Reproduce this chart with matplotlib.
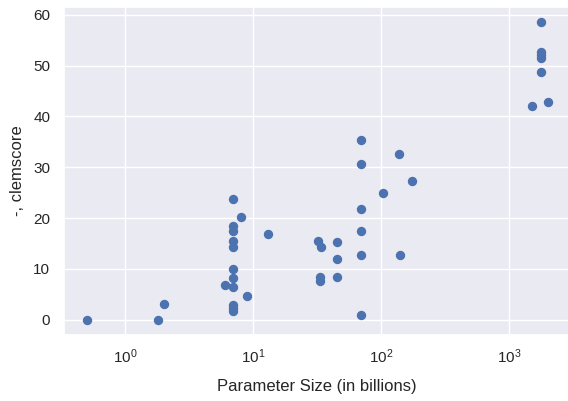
import numpy as np
import matplotlib
matplotlib.use("Agg")
import matplotlib.pyplot as plt
import seaborn as sns

sns.set_theme(style="darkgrid")
plt.rcParams['font.family'] = ['Liberation Sans', 'DejaVu Sans']

# parameter size in billions and clemscore
params = [0.5, 1.8, 2,
          7, 8, 7, 7, 7, 7, 13, 7, 7, 6, 7, 9, 7, 7, 7,
          70, 137, 70, 175, 104, 70, 70, 32, 34, 45, 70, 140, 45, 33, 33, 45, 70,
          1760, 1760, 1760, 1760, 1760, 2000, 1500]
scores = [0.0, 0.0, 3.0,
          23.7, 20.2, 18.5, 17.4, 15.5, 14.3, 16.9, 9.9, 8.1, 6.8, 6.5, 4.6, 2.9, 2.2, 1.6,
          35.3, 32.6, 30.6, 27.3, 25.0, 21.7, 17.5, 15.5, 14.3, 15.2, 12.8, 12.8, 11.9, 8.3, 7.6, 8.4, 0.9,
          58.6, 52.7, 52.1, 51.4, 48.7, 42.8, 42.1]

fig = plt.figure(figsize=(5.68, 4.01), dpi=100)
ax = fig.add_axes([0.1118, 0.1658, 0.8935, 0.8167])
ax.scatter(params, scores, s=33, color='#4C72B0')
ax.set_xscale('log')
ax.set_xlabel('Parameter Size (in billions)', fontsize=12, labelpad=9)
ax.set_ylabel('-, clemscore', fontsize=12, labelpad=6)
ax.tick_params(labelsize=11)

fig.savefig('out.png', dpi=100)
